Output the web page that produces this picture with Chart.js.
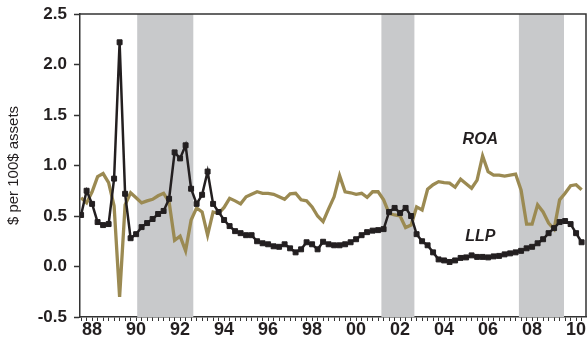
<!DOCTYPE html>
<html><head><meta charset="utf-8">
<script src="https://cdn.jsdelivr.net/npm/chart.js@4/dist/chart.umd.min.js"></script>
<style>html,body{margin:0;padding:0;background:#fff;overflow:hidden}#wrap{width:587px;height:342px;overflow:hidden}</style>
</head><body><div id="wrap"><canvas id="c" width="591" height="342"></canvas></div>
<script>
// ---- data (quarterly, first quarter = 1987 Q3) ----
const startYear = 1987.5;
const quarterStep = 0.25;
const llp = [
 0.51,0.75,0.62,0.44,0.41,0.42,0.87,2.22,0.72,0.28,
 0.32,0.39,0.43,0.47,0.52,0.55,0.67,1.13,1.07,1.20,
 0.77,0.62,0.71,0.94,0.62,0.54,0.46,0.40,0.35,0.33,
 0.31,0.31,0.25,0.23,0.22,0.20,0.195,0.22,0.18,0.14,
 0.17,0.24,0.22,0.17,0.245,0.22,0.21,0.21,0.22,0.24,
 0.27,0.31,0.34,0.355,0.36,0.37,0.54,0.58,0.53,0.58,
 0.50,0.32,0.25,0.21,0.14,0.07,0.06,0.045,0.06,0.085,
 0.09,0.11,0.095,0.095,0.09,0.10,0.105,0.12,0.13,0.14,
 0.155,0.18,0.195,0.23,0.27,0.33,0.38,0.44,0.45,0.42,
 0.33,0.24
];
const roa = [
 0.68,0.63,0.74,0.89,0.92,0.83,0.60,-0.30,0.61,0.73,
 0.68,0.63,0.65,0.665,0.70,0.725,0.64,0.26,0.30,0.155,
 0.46,0.58,0.54,0.31,0.54,0.525,0.585,0.675,0.65,0.62,
 0.69,0.715,0.74,0.725,0.725,0.715,0.69,0.665,0.72,0.725,
 0.66,0.65,0.59,0.50,0.445,0.57,0.69,0.90,0.74,0.73,
 0.715,0.725,0.685,0.74,0.74,0.66,0.525,0.51,0.50,0.385,
 0.41,0.59,0.56,0.765,0.81,0.84,0.83,0.825,0.785,0.865,
 0.82,0.775,0.855,1.095,0.94,0.905,0.905,0.895,0.905,0.915,
 0.755,0.42,0.42,0.61,0.54,0.43,0.37,0.66,0.725,0.80,
 0.81,0.76
];
const recessionStart = [1990.05, 2001.15, 2007.4];
const recessionEnd   = [1992.6, 2002.65, 2009.45];
const yTickValues = [-0.5, 0, 0.5, 1.0, 1.5, 2.0, 2.5];
const seriesNames = ['LLP', 'ROA'];
const yAxisTitle = '$ per 100$ assets';

// ---- chart ----
const FONT = "'Liberation Sans', Arial, sans-serif";
const INK = '#231f20';
const AXIS = '#333333';

const toPoints = arr => arr.map((v, i) => ({x: startYear + i * quarterStep, y: v}));

const bandsPlugin = {
  id: 'bands',
  beforeDatasetsDraw(chart) {
    const {ctx, chartArea: a, scales: {x}} = chart;
    ctx.save();
    ctx.fillStyle = '#c8c9cb';
    for (let i = 0; i < recessionStart.length; i++) {
      const x1 = x.getPixelForValue(recessionStart[i]);
      const x2 = x.getPixelForValue(recessionEnd[i]);
      ctx.fillRect(x1, a.top, x2 - x1, a.bottom - a.top);
    }
    ctx.restore();
  }
};

const framePlugin = {
  id: 'frame',
  afterDatasetsDraw(chart) {
    const {ctx, scales: {x, y}} = chart;
    ctx.save();
    ctx.fillStyle = INK;
    ctx.font = "italic bold 16px " + FONT;
    ctx.textAlign = 'center';
    ctx.textBaseline = 'middle';
    ctx.fillText(seriesNames[1], x.getPixelForValue(2005.65), y.getPixelForValue(1.26));
    ctx.fillText(seriesNames[0], x.getPixelForValue(2005.65), y.getPixelForValue(0.30));
    ctx.restore();
  },
  afterDraw(chart) {
    const {ctx, chartArea: a} = chart;
    ctx.save();
    ctx.strokeStyle = AXIS;
    ctx.lineWidth = 1.5;
    ctx.beginPath();
    ctx.moveTo(a.left, a.top);
    ctx.lineTo(a.right, a.top);
    ctx.lineTo(a.right, a.bottom);
    ctx.stroke();
    ctx.restore();
  }
};

new Chart(document.getElementById('c'), {
  type: 'line',
  data: {
    datasets: [
      {
        label: seriesNames[0], data: toPoints(llp),
        borderColor: INK, backgroundColor: INK, borderWidth: 2.5,
        pointStyle: 'rect', pointRadius: 3.5, pointBorderWidth: 1,
        pointBackgroundColor: INK, pointBorderColor: INK,
        tension: 0, order: 1
      },
      {
        label: seriesNames[1], data: toPoints(roa),
        borderColor: '#9b8a52', borderWidth: 3.3, pointRadius: 0,
        tension: 0, order: 2
      }
    ]
  },
  options: {
    responsive: false, animation: false, devicePixelRatio: 1,
    layout: {padding: {top: 14, right: 1, left: 0, bottom: 0}},
    plugins: {legend: {display: false}, tooltip: {enabled: false}},
    scales: {
      x: {
        type: 'linear', min: 1987.45, max: 2010.45,
        afterBuildTicks: s => {
          const t = [];
          for (let v = 1987.5; v <= 2010.3; v += 0.25) t.push({value: Math.round(v * 100) / 100});
          s.ticks = t;
        },
        ticks: {
          autoSkip: false, maxRotation: 0, minRotation: 0, padding: 0, color: INK,
          font: {family: FONT, size: 18, weight: 'bold', lineHeight: 1},
          callback: v => {
            const r = Math.round(v);
            if (Math.abs(v - r) < 0.01 && r % 2 === 0) return String(r % 100).padStart(2, '0');
            return '';
          }
        },
        grid: {drawOnChartArea: false, tickLength: 4, tickColor: AXIS, tickWidth: 1},
        border: {color: AXIS, width: 1.5},
        afterFit: s => { s.height = 25; s.paddingLeft = 0; s.paddingRight = 0; }
      },
      y: {
        min: -0.5, max: 2.5,
        afterBuildTicks: s => { s.ticks = yTickValues.map(v => ({value: v})); },
        ticks: {
          padding: 7, color: INK,
          font: {family: FONT, size: 17, weight: 'bold'},
          callback: v => Number(v).toFixed(1)
        },
        grid: {drawOnChartArea: false, tickLength: 6, tickColor: AXIS, tickWidth: 1.5},
        border: {color: AXIS, width: 1.5},
        title: {display: true, text: yAxisTitle, color: INK, font: {family: FONT, size: 15}, padding: {top: 5, bottom: 0}},
        afterFit: s => { s.width = 80; s.paddingTop = 0; s.paddingBottom = 0; }
      }
    }
  },
  plugins: [bandsPlugin, framePlugin]
});
</script>
</body></html>
